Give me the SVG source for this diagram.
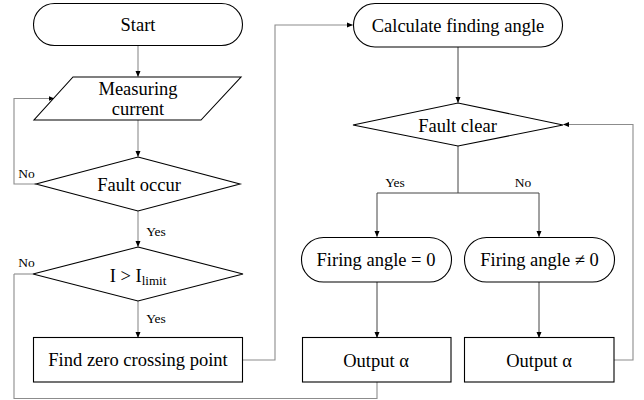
<svg xmlns="http://www.w3.org/2000/svg" width="644" height="400" viewBox="0 0 644 400">
<defs>
<marker id="ah" markerWidth="6" markerHeight="6" refX="5.5" refY="3" orient="auto" markerUnits="userSpaceOnUse">
<path d="M0,0.5 L6,3 L0,5.5 Z" fill="#000"/>
</marker>
<style>
.s{fill:#fff;stroke:#000;stroke-width:1.1}
.t{font-family:"Liberation Serif","Times New Roman",serif;font-size:18.5px;fill:#000;text-anchor:middle}
.l{font-family:"Liberation Serif","Times New Roman",serif;font-size:13.5px;fill:#000;text-anchor:middle}
.c{fill:none;stroke:#8c8c8c;stroke-width:1.1}
.d{fill:none;stroke:#444;stroke-width:1}
</style>
</defs>
<rect width="644" height="400" fill="#fff"/>
<g id="connectors">
<path class="c" d="M138,46 V76.5" marker-end="url(#ah)"/>
<path class="c" d="M138,120 V156.5" marker-end="url(#ah)"/>
<path class="c" d="M138,211 V246.5" marker-end="url(#ah)"/>
<path class="c" d="M138,301 V337.5" marker-end="url(#ah)"/>
<path class="c" d="M36,184 H14 V98.5 H54" marker-end="url(#ah)"/>
<path class="c" d="M33,274 H14"/>
<path class="c" d="M243,360 H275 V25 H352.5" marker-end="url(#ah)"/>
<path class="d" d="M458,47 V102.5" marker-end="url(#ah)"/>
<path class="d" d="M458,146 V193 M377,193 H539"/>
<path class="d" d="M377,193 V236.5" marker-end="url(#ah)"/>
<path class="d" d="M539,193 V236.5" marker-end="url(#ah)"/>
<path class="d" d="M377,282 V337.5" marker-end="url(#ah)"/>
<path class="d" d="M539,282 V337.5" marker-end="url(#ah)"/>
<path class="c" d="M377,382 V398.5 H14 V274"/>
<path class="c" d="M614,360 H633 V124.5 H563.5" marker-end="url(#ah)"/>
<text class="l" x="26.5" y="178">No</text>
<text class="l" x="26.5" y="267">No</text>
<text class="l" x="156" y="236">Yes</text>
<text class="l" x="156" y="323">Yes</text>
<text class="l" x="395" y="187">Yes</text>
<text class="l" x="523" y="187">No</text>
</g>
<g id="start">
<rect class="s" x="33.5" y="3.5" width="209" height="42" rx="21" ry="21"/>
<text class="t" x="138" y="31">Start</text>
</g>
<g id="measuring">
<polygon class="s" points="73,77 241,77 201,120 34,120"/>
<text class="t" x="138" y="95">Measuring</text>
<text class="t" x="138" y="115">current</text>
</g>
<g id="fault-occur">
<polygon class="s" points="138,157 240,184 138,211 36,184"/>
<text class="t" x="139" y="191">Fault occur</text>
</g>
<g id="limit">
<polygon class="s" points="138,247 243,274 138,301 33,274"/>
<text class="t" x="138" y="282">I &gt; I<tspan font-size="13px" dy="3">limit</tspan></text>
</g>
<g id="find-zero">
<rect class="s" x="33.5" y="337.5" width="209" height="44.5"/>
<text class="t" x="138" y="366">Find zero crossing point</text>
</g>
<g id="calculate">
<rect class="s" x="353.5" y="3.5" width="209" height="43.5" rx="21.5" ry="21.5"/>
<text class="t" x="458" y="32">Calculate finding angle</text>
</g>
<g id="fault-clear">
<polygon class="s" points="458,103 563,125 458,146 353,125"/>
<text class="t" x="457.5" y="132">Fault clear</text>
</g>
<g id="firing-zero">
<rect class="s" x="301.5" y="237.5" width="150" height="44.5" rx="22" ry="22"/>
<text class="t" x="376" y="266">Firing angle = 0</text>
</g>
<g id="firing-nonzero">
<rect class="s" x="464.5" y="237.5" width="150" height="44.5" rx="22" ry="22"/>
<text class="t" x="539.5" y="266">Firing angle ≠ 0</text>
</g>
<g id="output-left">
<rect class="s" x="302.5" y="337.5" width="148.5" height="44.5"/>
<text class="t" x="376" y="367">Output α</text>
</g>
<g id="output-right">
<rect class="s" x="464.5" y="337.5" width="149.5" height="44.5"/>
<text class="t" x="539" y="367">Output α</text>
</g>
</svg>
